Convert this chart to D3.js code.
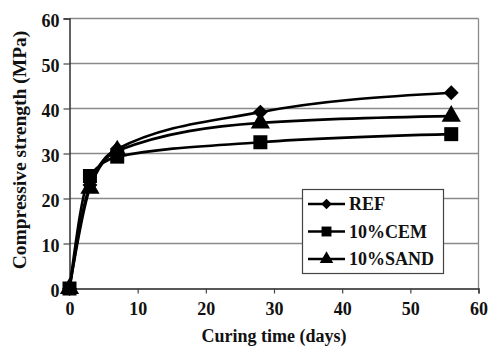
<!DOCTYPE html>
<html><head><meta charset="utf-8">
<script src="https://cdn.jsdelivr.net/npm/d3@7"></script>
</head><body style="margin:0;background:#fff;font:bold 18px 'Liberation Serif'">
<svg id="c" width="489" height="347" style="display:block" font-family="Liberation Serif" font-weight="bold"></svg>
<script>
const days = [0, 3, 7, 28, 56];
const seriesNames = ["REF", "10%CEM", "10%SAND"];
const refValues  = [0, 23.0, 31.0, 39.2, 43.5];
const cemValues  = [0, 25.0, 29.3, 32.5, 34.3];
const sandValues = [0, 22.3, 30.6, 36.8, 38.3];
const xTicks = [0, 10, 20, 30, 40, 50, 60];
const yTicks = [0, 10, 20, 30, 40, 50, 60];
const xTitle = "Curing time (days)";
const yTitle = "Compressive strength (MPa)";

const FONT = "Liberation Serif";
const FS = 18;
const svg = d3.select("#c");
const m = {l: 69.5, r: 478.5, t: 18.5, b: 288.5};
const x = d3.scaleLinear().domain([0, 60]).range([m.l, m.r]);
const y = d3.scaleLinear().domain([0, 60]).range([m.b, m.t]);

svg.append("g").selectAll("line").data(yTicks.filter(d => d > 0)).join("line")
  .attr("x1", m.l).attr("x2", m.r).attr("y1", d => y(d)).attr("y2", d => y(d))
  .attr("stroke", "#8a8a8a").attr("stroke-width", 1.3);
svg.append("line").attr("x1", m.r).attr("x2", m.r).attr("y1", m.t).attr("y2", m.b)
  .attr("stroke", "#8a8a8a").attr("stroke-width", 1.3);

const yAxis = svg.append("g").attr("transform", `translate(${m.l},0)`)
  .call(d3.axisLeft(y).tickValues(yTicks).tickSize(6).tickPadding(4).tickFormat(d3.format("d")));
const xAxis = svg.append("g").attr("transform", `translate(0,${m.b})`)
  .call(d3.axisBottom(x).tickValues(xTicks).tickSize(5).tickPadding(9).tickFormat(d3.format("d")));
[yAxis, xAxis].forEach(a => {
  a.attr("font-family", FONT).attr("font-size", FS).attr("font-weight", "bold");
  a.select(".domain").attr("stroke", "#222").attr("stroke-width", 1.4);
  a.selectAll(".tick line").attr("stroke", "#444").attr("stroke-width", 1.2);
  a.selectAll("text").attr("font-family", FONT).attr("font-size", FS)
    .attr("font-weight", "bold").attr("fill", "#111");
});
yAxis.selectAll("text").attr("dy", "0.42em");

function label(sel, fs) {
  return sel.attr("font-family", FONT).attr("font-size", fs || FS).attr("font-weight", "bold").attr("fill", "#111");
}
label(svg.append("text")).attr("x", 274).attr("y", 342).attr("text-anchor", "middle").text(xTitle);
label(svg.append("text"), 19.5).attr("transform", "translate(26,150) rotate(-90)").attr("text-anchor", "middle").text(yTitle);

const all = [refValues, cemValues, sandValues];
const line = d3.line().x((d, i) => x(days[i])).y(d => y(d)).curve(d3.curveMonotoneX);

const sym = [d3.symbolSquare, d3.symbolSquare, d3.symbolTriangle];
const symSize = [110, 196, 160];
const rot = [45, 0, 0];

all.forEach(vals => {
  svg.append("path").datum(vals).attr("d", line).attr("fill", "none")
    .attr("stroke", "#000").attr("stroke-width", 2.6);
});
[2, 1, 0].forEach(k => {
  svg.append("g").selectAll("path").data(all[k]).join("path")
    .attr("transform", (d, i) => `translate(${x(days[i])},${y(d)}) rotate(${rot[k]})`)
    .attr("d", d3.symbol(sym[k], symSize[k])).attr("fill", "#000");
});

const lg = svg.append("g");
lg.append("rect").attr("x", 302.5).attr("y", 189.5).attr("width", 141).attr("height", 84)
  .attr("fill", "#fff").attr("stroke", "#444").attr("stroke-width", 1.2);
seriesNames.forEach((n, k) => {
  const yy = 204 + k * 27.5;
  lg.append("line").attr("x1", 308).attr("x2", 345).attr("y1", yy).attr("y2", yy)
    .attr("stroke", "#000").attr("stroke-width", 2.6);
  lg.append("path").attr("transform", `translate(326.5,${yy}) rotate(${rot[k]})`)
    .attr("d", d3.symbol(sym[k], symSize[k] * 0.5)).attr("fill", "#000");
  label(lg.append("text")).attr("x", 349).attr("y", yy + 6).text(n);
});
</script></body></html>
